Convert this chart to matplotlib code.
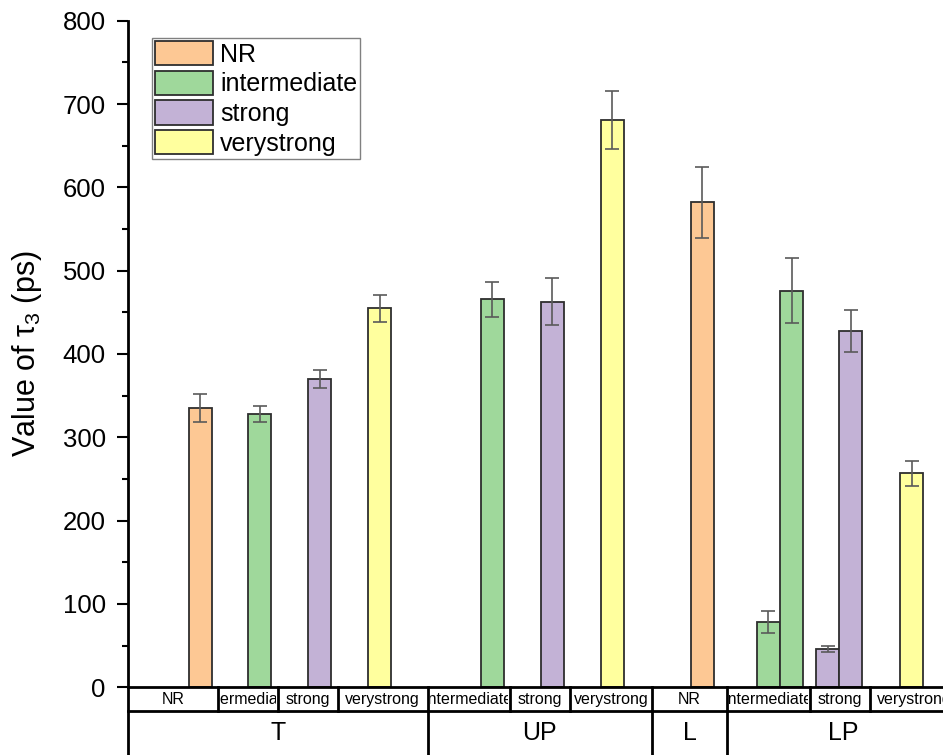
import matplotlib.pyplot as plt
from matplotlib.patches import Patch
from matplotlib.ticker import MultipleLocator
import matplotlib.transforms as mtransforms

plt.rcParams['font.family'] = ['Liberation Sans', 'DejaVu Sans']
plt.rcParams['mathtext.default'] = 'regular'

# tau_3 lifetimes per site group and hydrogen-bond class
groups = ["T", "UP", "L", "LP"]
cell_labels = ["NR", "intermediate", "strong", "verystrong",
               "intermediate", "strong", "verystrong",
               "NR",
               "intermediate", "strong", "verystrong"]
bar_class = ["NR", "intermediate", "strong", "verystrong",
             "intermediate", "strong", "verystrong",
             "NR",
             "intermediate", "intermediate", "strong", "strong", "verystrong"]
tau3 = [335, 328, 370, 455, 466, 463, 681, 582, 78, 476, 46, 428, 257]
tau3_err = [17, 10, 11, 16, 21, 28, 35, 43, 13, 39, 4, 25, 15]

classes = ["NR", "intermediate", "strong", "verystrong"]
colors = {"NR": "#fdc894", "intermediate": "#9fd89b",
          "strong": "#c3b2d6", "verystrong": "#ffff9e"}

# layout along x (axis units), bar slots and label cell borders
bar_x = [72, 131.5, 191.5, 251.5, 364, 424, 484, 574, 640, 663.5, 699.5, 722.5, 783.5]
bar_w = 23
cell_edges = [0, 90, 150, 210, 299.5, 382, 442, 524, 599, 682, 742, 831]
group_edges = [0, 299.5, 524, 599, 831]

fig = plt.figure(figsize=(9.43, 7.55), dpi=100)
ax = fig.add_axes([128 / 943, 1 - 687.3 / 755, 831 / 943, 666.6 / 755])

ax.bar(bar_x, tau3, width=bar_w, color=[colors[c] for c in bar_class],
       edgecolor='#2e2e2e', linewidth=1.3, zorder=2)
ax.errorbar(bar_x, tau3, yerr=tau3_err, fmt='none', ecolor='#5a5a5a',
            elinewidth=1.2, capsize=4.7, capthick=1.2, zorder=3)

ax.set_xlim(0, 831)
ax.set_ylim(0, 800)
ax.yaxis.set_major_locator(MultipleLocator(100))
ax.yaxis.set_minor_locator(MultipleLocator(50))
ax.tick_params(axis='y', which='major', direction='out', length=8, width=1.5,
               labelsize=18.5, pad=8)
ax.tick_params(axis='y', which='minor', direction='out', length=4, width=1.5)
ax.tick_params(axis='x', bottom=False, labelbottom=False)
for s in ['top', 'right']:
    ax.spines[s].set_visible(False)
for s in ['left', 'bottom']:
    ax.spines[s].set_linewidth(2)

ax.set_ylabel(r'Value of $\tau_3$ (ps)', fontsize=22)
ax.yaxis.set_label_coords(-0.101, 0.5)

# two-level category labels below the axis
trans = mtransforms.blended_transform_factory(ax.transData, ax.transAxes)
row1 = -(711 - 687.3) / 666.6
row2 = -0.12
line_kw = dict(color='black', linewidth=2, transform=trans, clip_on=False)
ax.plot([0, 831], [row1, row1], **line_kw)
ax.plot([0, 0], [0, row2], **line_kw)
for e in cell_edges[1:]:
    ax.plot([e, e], [0, row1], **line_kw)
for e in group_edges[1:]:
    ax.plot([e, e], [row1, row2], **line_kw)

for i, lab in enumerate(cell_labels):
    x0, x1 = cell_edges[i], cell_edges[i + 1]
    t = ax.text((x0 + x1) / 2, row1 / 2, lab, transform=trans, ha='center',
                va='center', fontsize=11.5)
    # long names get cut at the cell border
    cell = mtransforms.Bbox.from_extents(x0 + 2, row1, x1 - 2, 0)
    t.set_clip_box(mtransforms.TransformedBbox(cell, trans))
    t.set_clip_on(True)
for i, g in enumerate(groups):
    x0, x1 = group_edges[i], group_edges[i + 1]
    ax.text((x0 + x1) / 2, -0.0686, g, transform=trans, ha='center',
            va='center', fontsize=18)

handles = [Patch(facecolor=colors[c], edgecolor='#2e2e2e', linewidth=1.3)
           for c in classes]
leg = ax.legend(handles, classes, loc='upper left',
                bbox_to_anchor=(24 / 831, (687.3 - 38) / 666.6),
                borderaxespad=0, fontsize=18, handlelength=2.3,
                handleheight=1.12, labelspacing=0.16, borderpad=0.12,
                handletextpad=0.3, fancybox=False, framealpha=1)
leg.get_frame().set_edgecolor('#808080')
leg.get_frame().set_linewidth(1)

fig.savefig('out.png', dpi=100)
